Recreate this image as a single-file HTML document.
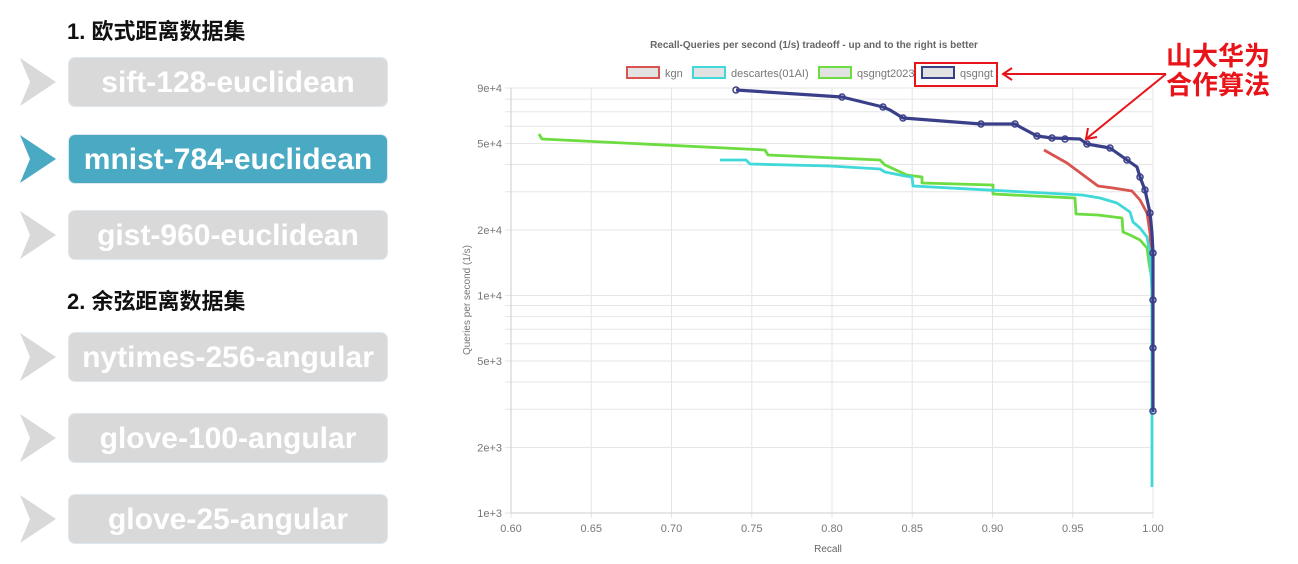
<!DOCTYPE html>
<html><head><meta charset="utf-8">
<style>
body{margin:0;width:1298px;height:564px;background:#fff;position:relative;overflow:hidden;font-family:"Liberation Sans","Noto Sans CJK SC",sans-serif}
.h{position:absolute;left:67px;font-weight:bold;font-size:22px;color:#111}
.b{position:absolute;left:68px;width:320px;height:50px;border-radius:7px;background:#d9d9d9;color:#fff;font-weight:bold;font-size:30px;line-height:50px;text-align:center;border:1px solid #dfe8ee;box-sizing:border-box;white-space:nowrap}
.b.a{background:#4aaac4}
.ch{position:absolute;left:20px;width:36px;height:48px}
.ann{position:absolute;left:1166px;top:42px;color:#e8141a;font-weight:bold;font-size:26px;line-height:29px;font-family:"Liberation Sans","Noto Sans CJK SC",sans-serif}
svg{position:absolute;left:0;top:0}
</style></head><body>
<div class="h" style="top:14px">1. 欧式距离数据集</div>
<div class="h" style="top:284px">2. 余弦距离数据集</div>
<div class="b" style="top:57px">sift-128-euclidean</div>
<div class="b a" style="top:134px">mnist-784-euclidean</div>
<div class="b" style="top:210px">gist-960-euclidean</div>
<div class="b" style="top:332px">nytimes-256-angular</div>
<div class="b" style="top:413px">glove-100-angular</div>
<div class="b" style="top:494px">glove-25-angular</div>
<svg class="ch" style="top:58px" viewBox="0 0 36 48"><polygon points="0,0 36,24 0,48 10,24" fill="#d9d9d9"/></svg>
<svg class="ch" style="top:135px" viewBox="0 0 36 48"><polygon points="0,0 36,24 0,48 10,24" fill="#4aaac4"/></svg>
<svg class="ch" style="top:211px" viewBox="0 0 36 48"><polygon points="0,0 36,24 0,48 10,24" fill="#d9d9d9"/></svg>
<svg class="ch" style="top:333px" viewBox="0 0 36 48"><polygon points="0,0 36,24 0,48 10,24" fill="#d9d9d9"/></svg>
<svg class="ch" style="top:414px" viewBox="0 0 36 48"><polygon points="0,0 36,24 0,48 10,24" fill="#d9d9d9"/></svg>
<svg class="ch" style="top:495px" viewBox="0 0 36 48"><polygon points="0,0 36,24 0,48 10,24" fill="#d9d9d9"/></svg>
<div class="ann">山大华为<br>合作算法</div>
<svg id="c" width="1298" height="564" font-family="Liberation Sans, sans-serif">
<text x="814" y="48" text-anchor="middle" font-size="10" font-weight="bold" fill="#666">Recall-Queries per second (1/s) tradeoff - up and to the right is better</text>
<g font-size="11" fill="#777">
<rect x="627" y="67" width="32" height="11" fill="#e2e2e2" stroke="#d9534f" stroke-width="2"/><text x="665" y="77">kgn</text>
<rect x="693" y="67" width="32" height="11" fill="#e2e2e2" stroke="#40d8d8" stroke-width="2"/><text x="731" y="77">descartes(01AI)</text>
<rect x="819" y="67" width="32" height="11" fill="#e2e2e2" stroke="#6cdc40" stroke-width="2"/><text x="857" y="77">qsgngt2023</text>
<rect x="922" y="67" width="32" height="11" fill="#e2e2e2" stroke="#3a3f8a" stroke-width="2"/><text x="960" y="77">qsgngt</text>
</g>
<g id="grid"></g>
<text x="828" y="552" text-anchor="middle" font-size="10" fill="#666">Recall</text>
<text transform="translate(470,300) rotate(-90)" text-anchor="middle" font-size="10" fill="#777">Queries per second (1/s)</text>
<g fill="none" stroke-width="2.8" stroke-linejoin="round">
<polyline stroke="#d9534f" points="1044,150 1067,163 1098,186 1113,188 1132,191 1140,200 1147,213 1150,233 1152,273 1152,310"/>
<polyline stroke="#6cdc40" points="539,134 542,139 765,150 768,155 880,160 885,165 907,175 922,177 922,183 993,185 993,194 1075,198 1076,214 1098,215 1122,218 1123,232 1130,235 1140,240 1147,248 1149,263 1152,280 1152,390"/>
<polyline stroke="#40d8d8" points="720,160 746,160 750,164 830,166 880,169 885,172 905,176 912,177 913,186 1082,195 1100,198 1117,203 1130,212 1133,222 1140,228 1147,237 1150,253 1152,293 1152,487"/>
<polyline stroke="#3a3f8a" stroke-width="3.2" points="736,90 842,97 883,107 890,110 903,118 981,124 1015,124 1022,128 1037,136 1052,138 1080,139 1087,144 1110,148 1127,160 1137,167 1140,177 1145,190 1150,213 1152,233 1153,253 1153,412"/>
</g>
<g fill="none" stroke="#3a3f8a" stroke-width="1.5">
<circle cx="736" cy="90" r="3"/><circle cx="842" cy="97" r="3"/><circle cx="883" cy="107" r="3"/><circle cx="903" cy="118" r="3"/><circle cx="981" cy="124" r="3"/><circle cx="1015" cy="124" r="3"/><circle cx="1037" cy="136" r="3"/><circle cx="1052" cy="138" r="3"/><circle cx="1065" cy="139" r="3"/><circle cx="1087" cy="144" r="3"/><circle cx="1110" cy="148" r="3"/><circle cx="1127" cy="160" r="3"/><circle cx="1140" cy="177" r="3"/><circle cx="1145" cy="190" r="3"/><circle cx="1150" cy="213" r="3"/><circle cx="1153" cy="253" r="3"/><circle cx="1153" cy="300" r="3"/><circle cx="1153" cy="348" r="3"/><circle cx="1153" cy="411" r="3"/>
</g>
<g fill="none" stroke="#e8141a" stroke-width="2">
<rect x="915" y="63" width="82" height="23"/>
<line x1="1166" y1="74" x2="1003" y2="74"/><polyline points="1012,68 1003,74 1012,80"/>
<line x1="1166" y1="74" x2="1086" y2="139"/><polyline points="1088,128 1086,139 1097,137"/>
</g>
</svg>
<script>
var g=document.getElementById('grid'),s='';
function Y(v){return 513-217.5*(Math.log10(v)-3);}
for(var d=1000;d<=10000;d*=10)for(var m=1;m<=9;m++){var v=d*m;if(v>90000)break;var y=Y(v);s+='<line x1="505" x2="1153" y1="'+y+'" y2="'+y+'" stroke="#e6e6e6"/>';}
var lab=[[1000,'1e+3'],[2000,'2e+3'],[5000,'5e+3'],[10000,'1e+4'],[20000,'2e+4'],[50000,'5e+4'],[90000,'9e+4']];
lab.forEach(function(l){s+='<text x="502" y="'+(Y(l[0])+4)+'" text-anchor="end" font-size="11" fill="#777">'+l[1]+'</text>';});
for(var i=0;i<=8;i++){var x=511+i*80.25;s+='<line x1="'+x+'" x2="'+x+'" y1="88" y2="518" stroke="#e6e6e6"/>';s+='<text x="'+x+'" y="532" text-anchor="middle" font-size="11" fill="#777">'+(0.6+i*0.05).toFixed(2)+'</text>';}
s+='<line x1="511" x2="511" y1="88" y2="513" stroke="#ccc"/><line x1="511" x2="1153" y1="513" y2="513" stroke="#ccc"/>';
g.innerHTML=s;
</script>
</body></html>
